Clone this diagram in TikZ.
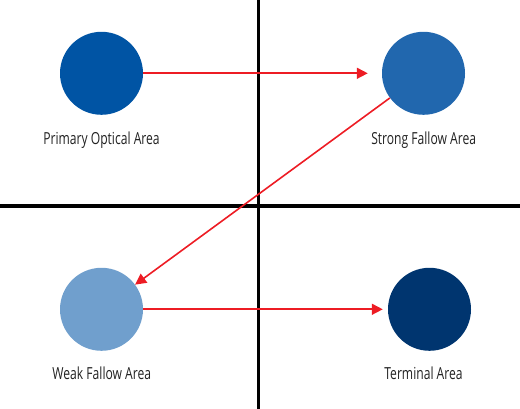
\documentclass[tikz,border=0pt]{standalone}
\usepackage{fontspec}
\newfontfamily\labfont[FakeStretch=0.73]{Open Sans}
\usetikzlibrary{arrows.meta}
\definecolor{cPOA}{HTML}{0054A4}
\definecolor{cSFA}{HTML}{2167AE}
\definecolor{cWFA}{HTML}{709FCD}
\definecolor{cTA}{HTML}{00356F}
\definecolor{arrowred}{HTML}{ED1C24}
\definecolor{labgray}{HTML}{222222}
\tikzset{
  area/.style={circle, minimum size=83pt, inner sep=0pt, draw=none},
  lab/.style={font=\labfont\fontsize{16.6}{18}\selectfont, text=labgray, inner sep=0pt, anchor=base},
  axis/.style={line width=3.2pt, black},
  flow/.style={line width=1.6pt, arrowred, -{Triangle[length=11pt,width=11pt]}}
}
\begin{document}
\begin{tikzpicture}[x=1pt,y=1pt]
\useasboundingbox (0,0) rectangle (520,409);
% axes
\coordinate (vtop) at (258.5,409);
\coordinate (vbot) at (258.5,0);
\coordinate (hl) at (0,203);
\coordinate (hr) at (520,203);
\draw[axis] (vtop) -- (vbot);
\draw[axis] (hl) -- (hr);
% areas
\node[area, fill=cPOA] (poa) at (101.5,335.7) {};
\node[area, fill=cSFA] (sfa) at (423.5,335.7) {};
\node[area, fill=cWFA] (wfa) at (101.5,99.7) {};
\node[area, fill=cTA]  (ta)  at (429.5,99.7) {};
% labels
\node[lab] (poal) at (101.5,264) {Primary Optical Area};
\node[lab] (sfal) at (423.7,264) {Strong Fallow Area};
\node[lab] (wfal) at (101.8,29) {Weak Fallow Area};
\node[lab] (tal)  at (423.5,29) {Terminal Area};
% flows
\draw[flow, shorten >=14pt] (poa) -- (sfa);
\draw[flow] (sfa) -- (wfa);
\draw[flow, shorten >=5pt] (wfa) -- (ta);
\end{tikzpicture}
\end{document}
